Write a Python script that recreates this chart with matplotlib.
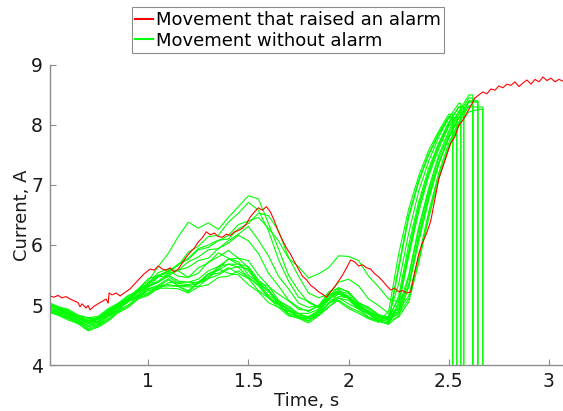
import matplotlib.pyplot as plt

# --- datos ---
# linea roja: movimiento que disparo una alarma
t_alarma = [0.51, 0.53, 0.55, 0.57, 0.59, 0.61, 0.63, 0.65, 0.66, 0.67, 0.69, 0.70, 0.71,
            0.73, 0.75, 0.77, 0.79, 0.80, 0.805, 0.82, 0.84, 0.86, 0.88, 0.91, 0.94, 0.96,
            0.98, 1.01, 1.03, 1.05, 1.07, 1.09, 1.11, 1.13, 1.15, 1.17, 1.19, 1.21, 1.23,
            1.25, 1.27, 1.29, 1.31, 1.33, 1.35, 1.37, 1.39, 1.41, 1.43, 1.45, 1.47, 1.49,
            1.51, 1.53, 1.55, 1.57, 1.59, 1.61, 1.63, 1.65, 1.67, 1.69, 1.71, 1.73, 1.75,
            1.77, 1.79, 1.81, 1.83, 1.85, 1.87, 1.89, 1.91, 1.93, 1.95, 1.97, 1.99, 2.01,
            2.03, 2.05, 2.07, 2.09, 2.11, 2.13, 2.15, 2.17, 2.19, 2.21, 2.23, 2.25, 2.27,
            2.29, 2.31, 2.33, 2.35, 2.37, 2.39, 2.41, 2.43, 2.45, 2.47, 2.49, 2.51, 2.53,
            2.55, 2.57, 2.59, 2.61, 2.63, 2.65, 2.67, 2.69, 2.71, 2.73, 2.75, 2.77, 2.79,
            2.81, 2.83, 2.85, 2.87, 2.89, 2.91, 2.93, 2.95, 2.97, 2.99, 3.01, 3.03, 3.05, 3.07]
i_alarma = [5.15, 5.13, 5.16, 5.12, 5.14, 5.10, 5.07, 5.04, 4.97, 5.02, 4.95, 4.99, 4.92,
            4.98, 5.02, 5.06, 5.10, 5.03, 5.20, 5.17, 5.20, 5.15, 5.20, 5.27, 5.38, 5.45,
            5.52, 5.60, 5.58, 5.65, 5.60, 5.58, 5.62, 5.55, 5.60, 5.70, 5.80, 5.88, 5.95,
            6.05, 6.12, 6.22, 6.17, 6.20, 6.14, 6.13, 6.18, 6.16, 6.22, 6.24, 6.28, 6.35,
            6.47, 6.55, 6.62, 6.58, 6.64, 6.55, 6.40, 6.22, 6.08, 5.95, 5.85, 5.72, 5.60,
            5.48, 5.42, 5.33, 5.28, 5.22, 5.18, 5.13, 5.22, 5.30, 5.40, 5.50, 5.62, 5.75,
            5.72, 5.65, 5.67, 5.62, 5.60, 5.52, 5.47, 5.40, 5.32, 5.25, 5.28, 5.22, 5.24,
            5.20, 5.22, 5.55, 5.85, 6.05, 6.20, 6.40, 6.75, 7.10, 7.30, 7.50, 7.70, 7.80,
            8.00, 8.08, 8.20, 8.32, 8.45, 8.50, 8.55, 8.52, 8.60, 8.58, 8.65, 8.62, 8.68,
            8.66, 8.72, 8.64, 8.70, 8.75, 8.68, 8.76, 8.72, 8.80, 8.74, 8.78, 8.72, 8.76, 8.73]

# lineas verdes: movimientos sin alarma (muestreadas cada 0.05 s)
t_verde = [0.50, 0.55, 0.60, 0.65, 0.70, 0.75, 0.80, 0.85, 0.90, 0.95, 1.00, 1.05, 1.10, 1.15,
           1.20, 1.25, 1.30, 1.35, 1.40, 1.45, 1.50, 1.55, 1.60, 1.65, 1.70, 1.75, 1.80, 1.85,
           1.90, 1.95, 2.00, 2.05, 2.10, 2.15, 2.20, 2.25, 2.30, 2.35, 2.40, 2.45, 2.50, 2.55,
           2.60, 2.65]

verdes = [
    [4.98, 4.93, 4.86, 4.80, 4.72, 4.77, 4.86, 4.99, 5.10, 5.27, 5.40, 5.64, 5.86, 6.14, 6.38,
     6.28, 6.37, 6.26, 6.46, 6.64, 6.82, 6.77, 6.36, 5.94, 5.50, 5.24, 5.04, 4.96, 5.11, 5.21,
     5.15, 4.99, 4.87, 4.75, 4.82, 5.35, 6.20, 6.90, 7.40, 7.80, 8.12, 8.36],
    [5.02, 4.95, 4.91, 4.82, 4.77, 4.79, 4.92, 5.01, 5.14, 5.26, 5.44, 5.49, 5.57, 5.66, 5.88,
     5.98, 6.14, 6.16, 6.38, 6.53, 6.71, 6.58, 6.24, 5.76, 5.40, 5.13, 5.06, 4.97, 5.15, 5.29,
     5.21, 5.04, 4.96, 4.84, 4.80, 4.95, 5.50, 6.30, 6.95, 7.50, 7.90, 8.22, 8.50],
    [5.00, 4.96, 4.87, 4.83, 4.73, 4.80, 4.89, 5.02, 5.08, 5.24, 5.34, 5.50, 5.53, 5.68, 5.78,
     5.94, 6.00, 6.08, 6.10, 6.27, 6.36, 6.53, 6.49, 6.24, 5.80, 5.48, 5.20, 5.12, 5.18, 5.38,
     5.43, 5.32, 5.10, 4.99, 4.86, 4.92, 5.15, 5.80, 6.55, 7.20, 7.70, 8.05, 8.38],
    [4.95, 4.91, 4.83, 4.79, 4.69, 4.76, 4.85, 4.99, 5.07, 5.22, 5.30, 5.47, 5.56, 5.68, 5.76,
     5.92, 5.96, 6.07, 6.16, 6.34, 6.40, 6.46, 6.28, 6.07, 5.78, 5.64, 5.45, 5.52, 5.62, 5.82,
     5.81, 5.74, 5.48, 5.30, 5.10, 5.05, 5.30, 6.05, 6.75, 7.35, 7.80, 8.12, 8.30, 8.30],
    [5.04, 4.97, 4.93, 4.83, 4.79, 4.81, 4.94, 5.03, 5.16, 5.22, 5.32, 5.40, 5.52, 5.58, 5.72,
     5.80, 5.92, 5.94, 6.07, 6.18, 6.31, 6.08, 5.82, 5.48, 5.27, 5.03, 4.96, 4.99, 5.16, 5.21,
     5.11, 4.95, 4.86, 4.74, 4.80, 5.10, 5.90, 6.65, 7.22, 7.68, 8.02, 8.30],
    [4.92, 4.87, 4.79, 4.75, 4.65, 4.73, 4.83, 4.96, 5.05, 5.24, 5.36, 5.47, 5.49, 5.58, 5.63,
     5.74, 5.78, 5.94, 6.03, 6.16, 6.07, 5.86, 5.53, 5.32, 5.08, 4.96, 4.89, 4.99, 5.09, 5.06,
     4.94, 4.86, 4.77, 4.71, 4.90, 5.85, 6.60, 7.15, 7.58, 7.90, 8.18],
    [5.05, 4.97, 4.91, 4.79, 4.73, 4.77, 4.91, 4.99, 5.12, 5.18, 5.37, 5.48, 5.57, 5.48, 5.46,
     5.53, 5.72, 5.80, 5.91, 5.78, 5.62, 5.38, 5.31, 5.18, 5.07, 4.93, 4.91, 4.98, 5.22, 5.28,
     5.22, 5.03, 4.96, 4.83, 4.78, 4.90, 5.45, 6.25, 6.90, 7.45, 7.85, 8.18, 8.45],
    [4.96, 4.89, 4.85, 4.75, 4.69, 4.71, 4.83, 4.93, 5.07, 5.16, 5.30, 5.38, 5.50, 5.40, 5.38,
     5.43, 5.57, 5.64, 5.76, 5.78, 5.74, 5.50, 5.32, 5.08, 4.97, 4.83, 4.81, 4.90, 5.14, 5.20,
     5.13, 4.97, 4.89, 4.77, 4.72, 5.60, 6.45, 7.05, 7.50, 7.85, 8.12],
    [5.00, 4.93, 4.87, 4.77, 4.71, 4.73, 4.87, 4.96, 5.10, 5.14, 5.27, 5.33, 5.44, 5.33, 5.32,
     5.36, 5.52, 5.60, 5.77, 5.68, 5.57, 5.36, 5.24, 5.06, 4.98, 4.86, 4.86, 4.93, 5.17, 5.23,
     5.19, 5.02, 4.93, 4.81, 4.76, 4.88, 5.35, 6.15, 6.85, 7.38, 7.80, 8.12, 8.40],
    [4.90, 4.85, 4.77, 4.71, 4.61, 4.67, 4.77, 4.91, 5.00, 5.14, 5.20, 5.32, 5.34, 5.31, 5.24,
     5.38, 5.46, 5.64, 5.68, 5.63, 5.46, 5.32, 5.13, 5.02, 4.86, 4.81, 4.74, 4.88, 5.02, 5.19,
     5.11, 5.01, 4.88, 4.81, 4.74, 4.80, 5.05, 5.70, 6.45, 7.10, 7.62, 7.98, 8.22, 8.26],
    [4.95, 4.88, 4.83, 4.73, 4.66, 4.69, 4.81, 4.91, 5.06, 5.12, 5.26, 5.30, 5.42, 5.32, 5.30,
     5.31, 5.44, 5.50, 5.60, 5.64, 5.60, 5.38, 5.22, 5.02, 4.92, 4.79, 4.77, 4.83, 5.02, 5.11,
     5.08, 4.93, 4.85, 4.73, 4.68, 5.00, 5.80, 6.55, 7.15, 7.60, 7.98, 8.22],
    [5.02, 4.95, 4.89, 4.79, 4.75, 4.77, 4.89, 4.97, 5.08, 5.13, 5.24, 5.26, 5.37, 5.38, 5.38,
     5.38, 5.50, 5.53, 5.62, 5.53, 5.44, 5.24, 5.12, 4.96, 4.90, 4.80, 4.80, 4.84, 5.04, 5.14,
     5.12, 4.97, 4.90, 4.79, 4.76, 4.85, 5.10, 5.75, 6.50, 7.15, 7.65, 8.02, 8.32],
    [4.98, 4.93, 4.85, 4.79, 4.69, 4.77, 4.87, 5.02, 5.10, 5.26, 5.36, 5.54, 5.60, 5.57, 5.46,
     5.62, 5.70, 5.87, 5.78, 5.72, 5.50, 5.37, 5.16, 5.06, 4.90, 4.86, 4.79, 4.91, 5.08, 5.26,
     5.12, 5.01, 4.89, 4.81, 4.76, 5.15, 6.00, 6.72, 7.28, 7.70, 8.05, 8.30],
    [4.88, 4.83, 4.75, 4.69, 4.57, 4.63, 4.73, 4.87, 4.96, 5.10, 5.16, 5.28, 5.28, 5.27, 5.20,
     5.30, 5.34, 5.46, 5.48, 5.57, 5.46, 5.34, 5.12, 5.00, 4.84, 4.78, 4.70, 4.82, 4.96, 5.12,
     5.02, 4.93, 4.80, 4.73, 4.68, 4.82, 5.30, 6.10, 6.80, 7.35, 7.78, 8.12, 8.40],
    [4.93, 4.86, 4.81, 4.71, 4.64, 4.67, 4.81, 4.92, 5.08, 5.16, 5.32, 5.38, 5.48, 5.36, 5.34,
     5.38, 5.52, 5.58, 5.68, 5.68, 5.64, 5.42, 5.26, 5.04, 4.94, 4.80, 4.79, 4.87, 5.10, 5.18,
     5.11, 4.95, 4.85, 4.73, 4.76, 5.65, 6.50, 7.08, 7.52, 7.86, 8.14],
    [4.90, 4.84, 4.79, 4.69, 4.59, 4.65, 4.75, 4.89, 4.98, 5.12, 5.18, 5.30, 5.32, 5.31, 5.22,
     5.36, 5.44, 5.60, 5.53, 5.50, 5.34, 5.22, 5.04, 4.96, 4.82, 4.78, 4.73, 4.84, 4.97, 5.08,
     4.97, 4.89, 4.79, 4.73, 4.70, 5.05, 5.85, 6.62, 7.20, 7.65, 8.00],
]
# instante en que cada registro verde se corta (cae a cero)
fin_verde = [2.56, 2.62, 2.645, 2.67, 2.575, 2.52, 2.62, 2.54, 2.645, 2.67, 2.56, 2.62,
             2.575, 2.645, 2.52, 2.54]

ticks_x = [1, 1.5, 2, 2.5, 3]
etiquetas_x = ['1', '1.5', '2', '2.5', '3']
ticks_y = [4, 5, 6, 7, 8, 9]

# --- figura ---
plt.rcParams['font.family'] = ['DejaVu Sans']
fig = plt.figure(figsize=(5.63, 4.11), dpi=100)
ax = fig.add_axes([0.0888, 0.1119, 0.9112, 0.73])

gris = '#8c8c8c'
for ys, fin in zip(verdes, fin_verde):
    xs = t_verde[:len(ys)] + [fin, fin]
    yy = ys + [ys[-1], 0]
    lv, = ax.plot(xs, yy, color='#00ff00', linewidth=0.8)

lr, = ax.plot(t_alarma, i_alarma, color='#ff0000', linewidth=0.8)

ax.set_xlim(0.51, 3.07)
ax.set_ylim(4, 9)
ax.set_xticks(ticks_x)
ax.set_xticklabels(etiquetas_x)
ax.set_yticks(ticks_y)

for lado in ['top', 'right']:
    ax.spines[lado].set_visible(False)
for lado in ['left', 'bottom']:
    ax.spines[lado].set_color(gris)
    ax.spines[lado].set_linewidth(1.0)
ax.tick_params(direction='in', length=4, width=0.8, color=gris, labelsize=13.5,
               labelcolor='#1a1a1a', pad=5)

ax.set_xlabel('Time, s', fontsize=13, color='#1a1a1a', labelpad=1)
ax.set_ylabel('Current, A', fontsize=13, color='#1a1a1a', labelpad=0)

leg = fig.legend([lr, lv], ['Movement that raised an alarm', 'Movement without alarm'],
                 loc='upper center', bbox_to_anchor=(0.5115, 0.982), fontsize=13,
                 handlelength=1.0, handletextpad=0.15, borderpad=0.2, labelspacing=0.15,
                 borderaxespad=0, fancybox=False, framealpha=1, edgecolor=gris)
leg.get_frame().set_linewidth(0.8)
for h in leg.get_lines():
    h.set_linewidth(1.5)

fig.savefig('out.png', dpi=100)
